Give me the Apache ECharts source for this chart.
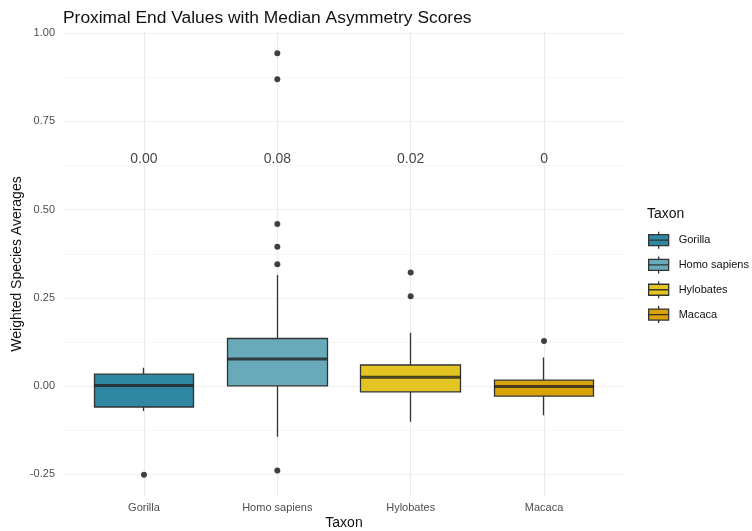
<!DOCTYPE html>
<html>
<head>
<meta charset="utf-8">
<script src="https://cdn.jsdelivr.net/npm/echarts@6/dist/echarts.min.js"></script>
<style>
  html, body { margin: 0; padding: 0; background: #fff; }
  #chart { width: 752px; height: 531px; }
</style>
</head>
<body>
<div id="chart"></div>
<script>
// data
const taxa = ['Gorilla', 'Homo sapiens', 'Hylobates', 'Macaca'];
// [lower whisker, Q1, median, Q3, upper whisker]
const boxStats = [
  [-0.070, -0.059, 0.002, 0.034, 0.052],
  [-0.143, 0.001, 0.077, 0.135, 0.315],
  [-0.101, -0.016, 0.025, 0.060, 0.151],
  [-0.082, -0.028, -0.001, 0.017, 0.081]
];
const outliers = [
  ['Gorilla', -0.251],
  ['Homo sapiens', 0.943], ['Homo sapiens', 0.869], ['Homo sapiens', 0.459],
  ['Homo sapiens', 0.395], ['Homo sapiens', 0.345], ['Homo sapiens', -0.239],
  ['Hylobates', 0.322], ['Hylobates', 0.255],
  ['Macaca', 0.128]
];
const medianLabels = ['0.00', '0.08', '0.02', '0'];
const labelY = 0.65;
const colors = ['#2f87a3', '#68aab9', '#e4c422', '#d9a208'];

const yMin = -0.311, yMax = 1.003;
const font = 'Liberation Sans, Arial, Helvetica, sans-serif';
const boxIcon = 'path://M10,0L10,3M0,3L20,3L20,14L0,14ZM0,8.5L20,8.5M10,14L10,17';

const chart = echarts.init(document.getElementById('chart'));

const boxSeries = taxa.map((name, i) => ({
  name: name,
  type: 'candlestick',
  xAxisIndex: 1,
  yAxisIndex: 2,
  barWidth: 100,
  z: 2,
  data: taxa.map((t, j) => {
    if (j !== i) return '-';
    const s = boxStats[j];
    return [s[1], s[3], s[0], s[4]];
  }),
  itemStyle: {
    color: colors[i],
    color0: colors[i],
    borderColor: '#333',
    borderColor0: '#333',
    borderWidth: 1.3
  }
}));

chart.setOption({
  animation: false,
  textStyle: { fontFamily: font },
  title: [
    {
      text: 'Proximal End Values with Median Asymmetry Scores',
      left: 58,
      top: 5,
      textStyle: { fontSize: 17.4, fontWeight: 'normal', color: '#111' }
    },
    {
      text: 'Taxon',
      left: 642,
      top: 202,
      textStyle: { fontSize: 14, fontWeight: 'normal', color: '#111' }
    }
  ],
  legend: {
    orient: 'vertical',
    left: 643,
    top: 226,
    itemWidth: 20,
    itemHeight: 17,
    itemGap: 6.5,
    icon: boxIcon,
    data: taxa,
    itemStyle: { borderColor: '#333', borderWidth: 1.3 },
    textStyle: { fontSize: 11, color: '#111', padding: [0, 0, 0, 5] }
  },
  grid: [
    { left: 64, right: 128, top: 32, bottom: 35, outerBoundsMode: 'none' },
    { left: 77.3, right: 141.3, top: 32, bottom: 35, outerBoundsMode: 'none' }
  ],
  xAxis: [
    {
      type: 'value', gridIndex: 0, min: 0.4, max: 4.6,
      minInterval: 1, maxInterval: 1,
      axisLine: { show: false }, axisTick: { show: false }, axisLabel: { show: false },
      splitLine: { show: true, showMinLine: false, showMaxLine: false, lineStyle: { color: '#ebebeb', width: 1.1 } }
    },
    {
      type: 'category', gridIndex: 1, data: taxa,
      name: 'Taxon', nameLocation: 'middle', nameGap: 20, nameMoveOverlap: false,
      nameTextStyle: { fontSize: 14, color: '#111' },
      axisLine: { show: false }, axisTick: { show: false }, splitLine: { show: false },
      axisLabel: { fontSize: 11, color: '#4d4d4d', margin: 6 }
    }
  ],
  yAxis: [
    {
      type: 'value', gridIndex: 0, min: yMin, max: yMax,
      minInterval: 0.25, maxInterval: 0.25,
      name: 'Weighted Species Averages', nameLocation: 'middle', nameGap: 40, nameMoveOverlap: false,
      nameTextStyle: { fontSize: 14, color: '#111' },
      axisLine: { show: false }, axisTick: { show: false },
      axisLabel: {
        fontSize: 11, color: '#4d4d4d', margin: 9,
        showMinLabel: false, showMaxLabel: false,
        formatter: v => Math.abs(v * 4 - Math.round(v * 4)) < 1e-6 ? v.toFixed(2) : ''
      },
      splitLine: { show: true, showMinLine: false, showMaxLine: false, lineStyle: { color: '#ebebeb', width: 1.1 } }
    },
    {
      type: 'value', gridIndex: 0, min: yMin, max: yMax,
      minInterval: 0.125, maxInterval: 0.125,
      axisLine: { show: false }, axisTick: { show: false }, axisLabel: { show: false },
      splitLine: { show: true, showMinLine: false, showMaxLine: false, lineStyle: { color: '#f2f2f2', width: 0.7 } }
    },
    { type: 'value', gridIndex: 1, min: yMin, max: yMax, show: false }
  ],
  series: boxSeries.concat([
    {
      name: 'median',
      type: 'scatter',
      xAxisIndex: 1, yAxisIndex: 2,
      symbol: 'rect',
      symbolSize: [100, 3],
      z: 3,
      itemStyle: { color: '#222' },
      data: taxa.map((t, i) => [t, boxStats[i][2]])
    },
    {
      name: 'outliers',
      type: 'scatter',
      xAxisIndex: 1, yAxisIndex: 2,
      symbolSize: 6,
      clip: false,
      z: 4,
      itemStyle: { color: '#111' },
      data: outliers
    },
    {
      name: 'labels',
      type: 'scatter',
      xAxisIndex: 1, yAxisIndex: 2,
      symbolSize: 0,
      z: 5,
      label: {
        show: true, position: 'inside', fontSize: 14, color: '#111',
        offset: [0, 2],
        formatter: p => medianLabels[p.dataIndex]
      },
      data: taxa.map(t => [t, labelY])
    }
  ])
});
</script>
</body>
</html>
